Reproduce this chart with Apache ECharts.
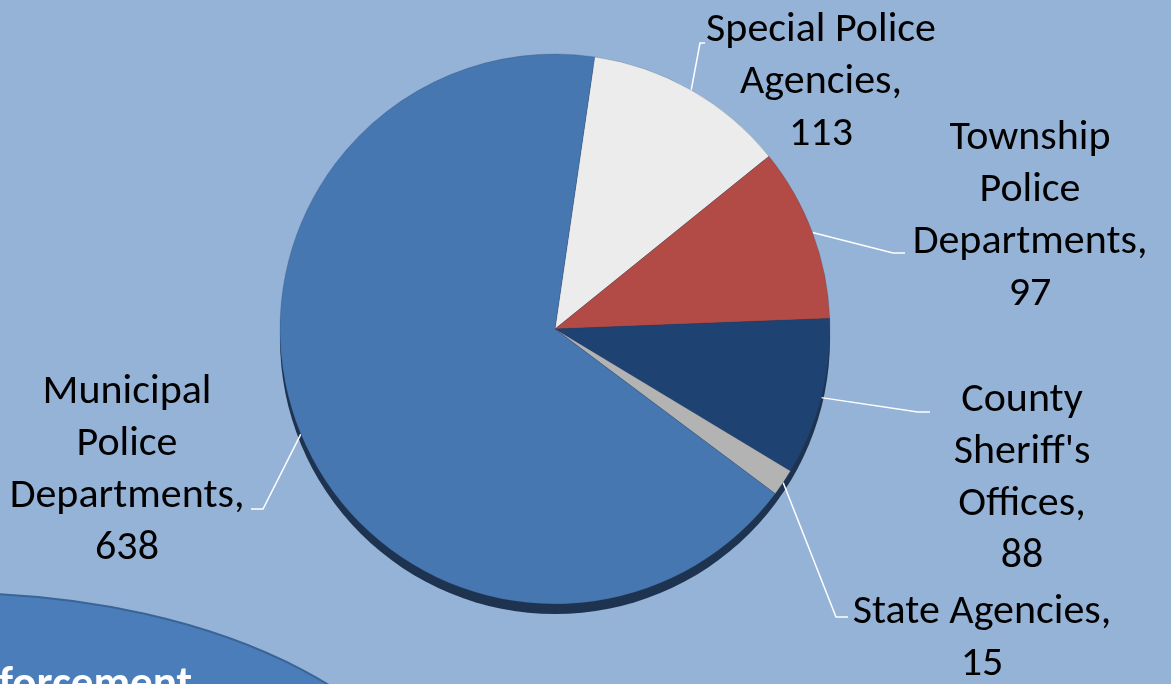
<!DOCTYPE html>
<html>
<head>
<meta charset="utf-8">
<script src="https://cdn.jsdelivr.net/npm/echarts@6/dist/echarts.min.js"></script>
<style>
html,body{margin:0;padding:0;background:#95b3d7;}
#chart{width:1171px;height:684px;}
</style>
</head>
<body>
<div id="chart"></div>
<script>
var categories = [
  'Special Police\nAgencies',
  'Township\nPolice\nDepartments',
  "County\nSheriff's\nOffices",
  'State Agencies',
  'Municipal\nPolice\nDepartments'
];
var values = [113, 97, 88, 15, 638];
var colors = ['#ececec', '#b24b46', '#1e4272', '#b3b3b3', '#4677b0'];

// label placement (text block centre, line elbow, line end)
var labelPlacement = [
  {x: 821, y: 82, elbow: [700, 43], end: [705, 43]},
  {x: 1030, y: 216, elbow: [893, 253], end: [905, 253]},
  {x: 1022, y: 478, elbow: [918, 412], end: [930, 412]},
  {x: 982, y: 638, elbow: [836, 617], end: [848, 617]},
  {x: 127, y: 470, elbow: [263, 509], end: [251, 509]}
];

var FONT = 'Calibri, Carlito, Lato, sans-serif';
var chart = echarts.init(document.getElementById('chart'), null, {renderer: 'canvas'});

chart.setOption({
  backgroundColor: '#95b3d7',
  animation: false,
  graphic: [
    {type: 'ellipse', shape: {cx: -50, cy: 858, rx: 500, ry: 265}, z: 0,
     style: {fill: '#4a7dba', stroke: '#3a6496', lineWidth: 2}},
    {type: 'text', x: 192, y: 708, z: 1,
     style: {text: 'Enforcement', fill: '#ffffff', font: 'bold 45px ' + FONT, textAlign: 'right', textVerticalAlign: 'bottom'}},
    {type: 'circle', shape: {cx: 555, cy: 339, r: 275}, z: 0,
     style: {fill: '#1e3350'}}
  ],
  series: [{
    type: 'pie',
    center: [555, 329],
    radius: [0, 275],
    startAngle: 81.7,
    clockwise: true,
    z: 2,
    itemStyle: {borderColor: 'rgba(40,60,90,0.35)', borderWidth: 0.6},
    label: {
      show: true,
      position: 'outside',
      formatter: function(p){ return p.name + ',\n' + p.value; },
      color: '#000',
      fontFamily: FONT,
      fontSize: 42,
      lineHeight: 52,
      align: 'center'
    },
    labelLine: {show: true, lineStyle: {color: '#ffffff', width: 1.5}, length: 20, length2: 10},
    labelLayout: function(params){
      var L = labelPlacement[params.dataIndex];
      var pts = params.labelLinePoints;
      var start = pts ? pts[0] : L.elbow;
      return {x: L.x, y: L.y, align: 'center', verticalAlign: 'middle',
              labelLinePoints: [start, L.elbow, L.end]};
    },
    data: categories.map(function(c, i){
      return {name: c, value: values[i], itemStyle: {color: colors[i]}};
    })
  }]
});
</script>
</body>
</html>
